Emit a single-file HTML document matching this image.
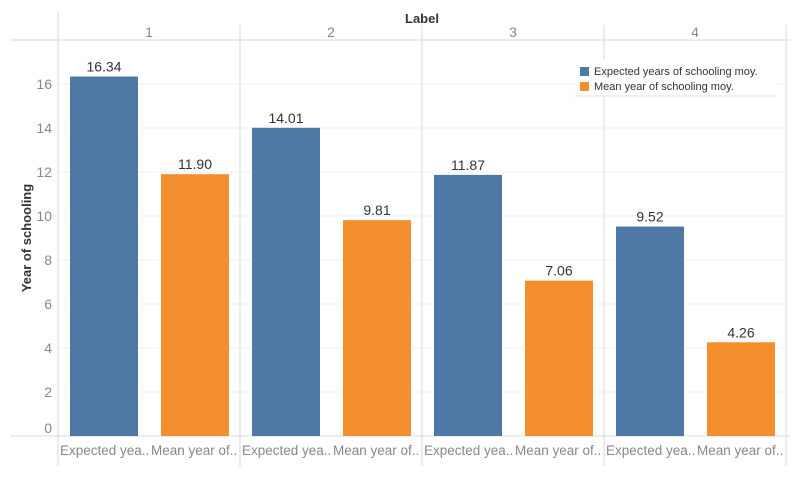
<!DOCTYPE html>
<html><head><meta charset="utf-8"><style>
body{margin:0;background:#fff;font-family:"Liberation Sans",sans-serif}
svg text{font-family:"Liberation Sans",sans-serif}
</style></head><body>
<svg id="c" width="798" height="472"></svg>
<script>
const groups=["1","2","3","4"];
const expected=[16.34,14.01,11.87,9.52];
const meanYears=[11.90,9.81,7.06,4.26];
const yTicks=[0,2,4,6,8,10,12,14,16];
const seriesLabels=["Expected yea..","Mean year of.."];
const legendLabels=["Expected years of schooling moy.","Mean year of schooling moy."];
const colors=["#4e79a7","#f28e2b"];
const NS="http://www.w3.org/2000/svg";
const svg=document.getElementById('c');
function y(v){return 436-v*22;}
function px(i){return 58+i*182;}
function mk(t,a,txt){const e=document.createElementNS(NS,t);for(const k in a)e.setAttribute(k,a[k]);if(txt!==undefined)e.textContent=txt;svg.appendChild(e);return e;}
yTicks.forEach(t=>{
 const g=mk('line',{x1:58,x2:786,y1:y(t),y2:y(t),stroke:'#f0f0f0'});
 
 
 const l=mk('text',{x:52,y:y(t)+5-(t===0?8:0),'text-anchor':'end','font-size':14,fill:'#888'},t);
 
 
});
mk('line',{x1:10,x2:790,y1:40,y2:40,stroke:'#d9d9d9'});
mk('line',{x1:10,x2:790,y1:436,y2:436,stroke:'#d9d9d9'});
mk('line',{x1:58,x2:58,y1:11,y2:466,stroke:'#d9d9d9'});
for(let i=1;i<=4;i++)mk('line',{x1:px(i),x2:px(i),y1:25,y2:466,stroke:'#d9d9d9'});
const tt=mk('text',{x:422,y:23,'text-anchor':'middle','font-size':13,'font-weight':'bold',fill:'#333'},'Label');


const yt=mk('text',{x:31,y:238,'text-anchor':'middle','font-size':13,'font-weight':'bold',fill:'#333',transform:'rotate(-90 31 238)'},'Year of schooling');


groups.forEach((g,i)=>{
 const h=mk('text',{x:px(i)+91,y:37,'text-anchor':'middle','font-size':14,fill:'#888'},g);
 
 
 [expected[i],meanYears[i]].forEach((v,s)=>{
  const x=px(i)+12+s*91;
  const r=mk('rect',{x:x,y:y(v),width:68,height:436-y(v),fill:colors[s]});
  
  
  const t=mk('text',{x:x+34,y:y(v)-5,'text-anchor':'middle','font-size':14,fill:'#333'},v.toFixed(2));
  
  
  const xl=mk('text',{x:px(i)+2+s*91,y:455,'font-size':13.5,fill:'#888'},seriesLabels[s]);
  
  
 });
});
const lg=mk('rect',{x:575,y:60,width:200,height:36,fill:'#fff'});


mk('line',{x1:575,x2:775,y1:96,y2:96,stroke:'#e0e0e0'});
legendLabels.forEach((l,s)=>{
 const r=mk('rect',{x:580,y:67+s*15,width:9,height:9,fill:colors[s]});
 
 
 const t=mk('text',{x:594,y:75+s*15,'font-size':11,fill:'#333'},l);
 
 
});
</script>
</body></html>
